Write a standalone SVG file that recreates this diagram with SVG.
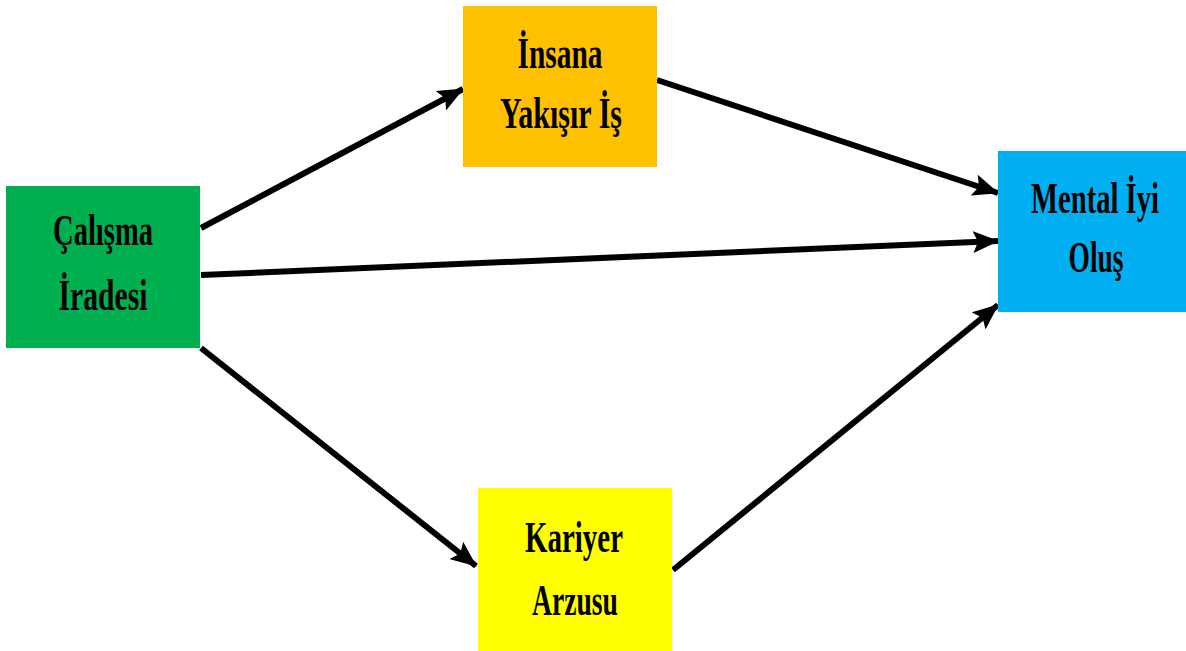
<svg xmlns="http://www.w3.org/2000/svg" width="1186" height="651" viewBox="0 0 1186 651">
<defs>
<marker id="ah" markerUnits="userSpaceOnUse" markerWidth="26" markerHeight="22" viewBox="0 0 26 22" refX="25" refY="11" orient="auto">
<path d="M0,0 L26,11 L0,22 L5,11 Z" fill="#000"/>
</marker>
<style>
.lbl{font-family:"Liberation Serif","Times New Roman",serif;font-weight:bold;font-size:45px;fill:#000;text-anchor:middle}
.con{stroke:#000;stroke-width:6;fill:none;marker-end:url(#ah)}
</style>
</defs>
<rect width="1186" height="651" fill="#fff"/>
<g id="connectors">
<line class="con" x1="201" y1="228" x2="463" y2="89"/>
<line class="con" x1="201" y1="275" x2="998" y2="241"/>
<line class="con" x1="201" y1="348" x2="476" y2="566"/>
<line class="con" x1="657" y1="80" x2="998" y2="193"/>
<line class="con" x1="673" y1="570" x2="998" y2="305"/>
</g>
<g id="calisma">
<rect x="6" y="186" width="194" height="162" fill="#00B050"/>
<text class="lbl" x="103" y="245" textLength="100" lengthAdjust="spacingAndGlyphs">Çalışma</text>
<text class="lbl" x="103" y="310" textLength="89" lengthAdjust="spacingAndGlyphs">İradesi</text>
</g>
<g id="insana">
<rect x="463" y="6" width="194" height="161" fill="#FFC000"/>
<text class="lbl" x="560" y="68" textLength="85" lengthAdjust="spacingAndGlyphs">İnsana</text>
<text class="lbl" x="561" y="128" textLength="122" lengthAdjust="spacingAndGlyphs">Yakışır İş</text>
</g>
<g id="mental">
<rect x="998" y="151" width="188" height="161" fill="#00B0F0"/>
<text class="lbl" x="1095" y="213" textLength="128" lengthAdjust="spacingAndGlyphs">Mental İyi</text>
<text class="lbl" x="1096" y="272" textLength="55" lengthAdjust="spacingAndGlyphs">Oluş</text>
</g>
<g id="kariyer">
<rect x="478" y="488" width="194" height="163" fill="#FFFF00"/>
<text class="lbl" x="574" y="552" textLength="98" lengthAdjust="spacingAndGlyphs">Kariyer</text>
<text class="lbl" x="575" y="615" textLength="86" lengthAdjust="spacingAndGlyphs">Arzusu</text>
</g>
</svg>
